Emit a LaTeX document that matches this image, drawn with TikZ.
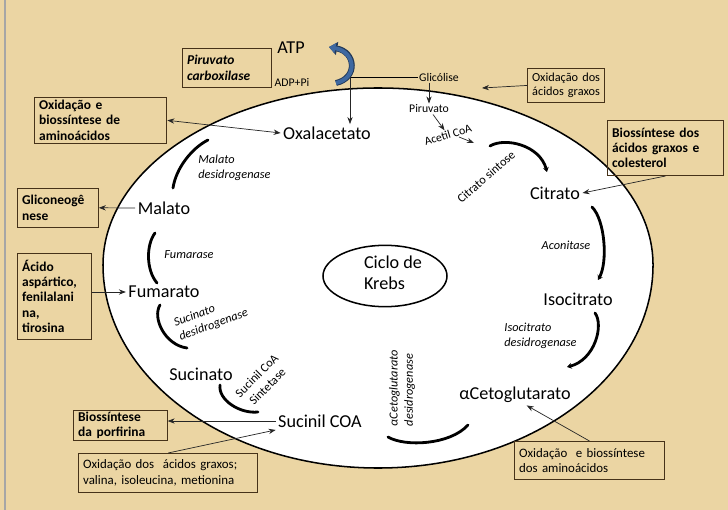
\documentclass[tikz,border=0pt]{standalone}
\usepackage{fontspec}
\setmainfont{Carlito}
\usetikzlibrary{arrows.meta}

\definecolor{papel}{RGB}{235,213,163}
\definecolor{borda}{RGB}{70,50,25}
\definecolor{azulatp}{RGB}{62,104,160}

\tikzset{
  metab/.style={font=\fontsize{15.5}{18}\selectfont, inner sep=2pt},
  enzima/.style={font=\fontsize{10.5}{13}\selectfont\itshape, align=left, inner sep=1pt},
  enzreta/.style={font=\fontsize{10.5}{13}\selectfont, align=center, inner sep=1pt},
  pequeno/.style={font=\fontsize{10}{12}\selectfont, inner sep=1pt},
  caixa/.style={draw=borda, line width=0.8pt, anchor=north west, align=left,
    inner xsep=4pt, inner ysep=1.5pt, font=\fontsize{11.5}{13}\selectfont\bfseries},
  caixafina/.style={caixa, font=\fontsize{10.5}{12.5}\selectfont},
  seta/.style={-{Stealth[length=6pt,width=4.5pt]}, line width=0.6pt, draw=black!85},
  arco/.style={line width=2.4pt, line cap=round},
}

\begin{document}
\begin{tikzpicture}[x=0.03cm, y=-0.03cm]

        \fill[papel] (0,0) rectangle (728,510);
        \useasboundingbox (0,0) rectangle (728,510);
        \draw[gray!70, line width=1.5pt] (5,0) -- (5,510);

        \draw[fill=white, line width=1.3pt] (103,265)
          arc[start angle=180, end angle=0, x radius=8.25cm, y radius=5.31cm]
          arc[start angle=0, end angle=-180, x radius=8.25cm, y radius=6.09cm] -- cycle;
        \draw[line width=1.3pt] (385,276) ellipse [x radius=1.86cm, y radius=0.92cm];
        \node[align=left, font=\fontsize{15.5}{18}\selectfont] (krebs) at (393,273) {Ciclo de\\Krebs};

        \begin{scope}[every node/.style={metab}]
          \node (oxal)  at (327,133) {Oxalacetato};
          \node (citr)  at (555,193) {Citrato};
          \node (isoc)  at (578,299) {Isocitrato};
          \node (akg)   at (515,395) {αCetoglutarato};
          \node (sucoa) at (320,421) {Sucinil COA};
          \node (sucin) at (201,374) {Sucinato};
          \node (fumar) at (164,292) {Fumarato};
          \node (malat) at (164,208) {Malato};
          \node (atp)   at (291,48)  {ATP};
        \end{scope}

        \begin{scope}[every node/.style={pequeno}]
          \node (adp)  at (292,82)  {ADP+Pi};
          \node (glic) at (439,77)  {Glicólise};
          \node (piru) at (429,109) {Piruvato};
          \node[rotate=17] (acet) at (448,135) {Acetil CoA};
        \end{scope}

        \node[enzima, anchor=west] (mdh)  at (197,168) {Malato\\desidrogenase};
        \node[enzima] (fum) at (189,255) {Fumarase};
        \node[enzima, rotate=20] (sdh) at (211,318) {Sucinato\\desidrogenase};
        \node[enzreta, rotate=45] (scs) at (262,381) {Sucinil CoA\\Sintetase};
        \node[enzima, rotate=90] (akgdh) at (402,388) {αCetoglutarato\\desidrogenase};
        \node[enzreta, rotate=41] (cs) at (486,177) {Citrato sintose};
        \node[enzima] (acon) at (566,245) {Aconitase};
        \node[enzima, anchor=west] (icdh) at (503,336) {Isocitrato\\desidrogenase};

        \draw[arco] (173,188) .. controls (176,168) and (192,148) .. (208,140);
        \draw[arco] (155,233) .. controls (146,245) and (146,270) .. (157,283);
        \draw[arco] (160,305) .. controls (152,318) and (165,345) .. (187,348);
        \draw[arco] (220,385) .. controls (218,400) and (240,414) .. (258,412);
        \draw[arco] (468,425) .. controls (450,445) and (405,447) .. (388,437);
        \draw[arco, -{Stealth[length=4pt,width=5pt]}] (490,146) .. controls (505,137) and (540,145) .. (547,172);
        \draw[arco, -{Stealth[length=4pt,width=5pt]}] (592,207) .. controls (605,220) and (608,262) .. (598,280);
        \draw[arco, -{Stealth[length=4pt,width=5pt]}] (595,313) .. controls (604,325) and (595,360) .. (567,367);

        \draw[line width=5pt, azulatp!55!black, -{Triangle[length=7pt,width=11pt]}] (336,83) .. controls (358,78) and (356,52) .. (329,47);
        \draw[line width=3.4pt, azulatp, -{Triangle[length=5.5pt,width=8.5pt]}] (336,83) .. controls (358,78) and (356,52) .. (329,47);

        \node[caixa, font=\fontsize{11.5}{13}\selectfont\bfseries\itshape, text width=68pt, minimum height=33pt] (pcarb) at (182,48) {Piruvato\\carboxilase};
        \node[caixa, text width=105pt, minimum height=39pt] (oxbio) at (34,97) {Oxidação~e\\biossíntese~de\\aminoácidos};
        \node[caixa, text width=61pt, minimum height=33pt] (glico) at (17,188) {Gliconeogê\\nese};
        \node[caixa, text width=55pt, minimum height=73pt] (acido) at (17,253) {Ácido\\aspártico,\\fenilalani\\na,\\tirosina};
        \node[caixa, text width=72pt, minimum height=25.6pt] (porf) at (73,410) {Biossíntese\\da~porfirina};
        \node[caixafina, font=\fontsize{11}{13}\selectfont, text width=145pt, minimum height=33pt] (oxgrax) at (78,453) {Oxidação~dos~~ácidos~graxos;\\valina,~isoleucina,~metionina};
        \node[caixafina, text width=58pt, minimum height=29pt] (oxdos) at (527,68) {Oxidação~dos\\ácidos~graxos};
        \node[caixa, text width=91pt, minimum height=47pt] (biocol) at (607,120) {Biossíntese~dos\\ácidos~graxos~e\\colesterol};
        \node[caixafina, font=\fontsize{11}{13}\selectfont, text width=120pt, minimum height=32.4pt] (oxamin) at (514,441) {Oxidação~~e~biossíntese\\dos~aminoácidos};

        \coordinate (juncao) at (350,77);
        \coordinate (oxdosfim) at (482,88);
        \coordinate (acetA) at (459,137);
        \coordinate (acetB) at (474,143);

        \draw[line width=0.6pt] (glic.west) -- (juncao);
        \draw[seta] (juncao) -- (juncao |- oxal.north);
        \draw[seta] (piru.north |- glic.south) -- (piru.north);
        \draw[seta] (piru) -- (acet);
        \draw[seta] (acetA) -- (acetB);
        \draw[seta] (oxdos.west) -- (oxdosfim);
        \draw[seta] (biocol.south) -- (citr.east);
        \draw[seta, {Stealth[length=6pt,width=4.5pt]}-{Stealth[length=6pt,width=4.5pt]}] (oxbio.east) -- (oxal.west);
        \draw[seta] (malat.west) -- (glico.east);
        \draw[seta] (acido.east |- fumar.west) -- (fumar.west);
        \draw[seta] (sucoa.west) -- (porf.east |- sucoa.west);
        \draw[seta] (oxgrax.north) -- (sucoa.south west);
        \draw[seta] (oxamin.north) -- ([xshift=10pt]akg.south);

      \end{tikzpicture}
\end{document}
